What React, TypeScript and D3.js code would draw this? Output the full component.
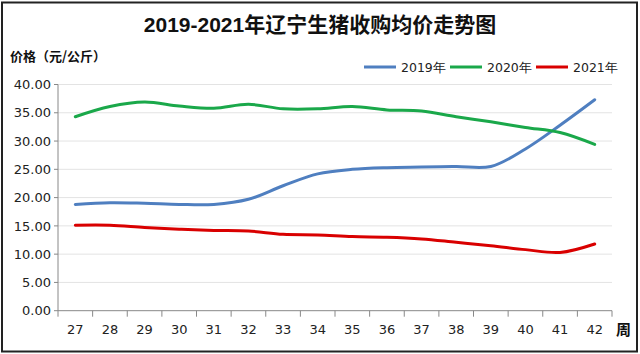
import React from "react";
import * as d3 from "d3";

const weeks = ["27","28","29","30","31","32","33","34","35","36","37","38","39","40","41","42"];
const s2019 = [18.8, 19.1, 19.0, 18.8, 18.8, 19.7, 22.1, 24.2, 25.0, 25.3, 25.4, 25.5, 25.5, 28.6, 32.8, 37.3];
const s2020 = [34.3, 36.1, 36.9, 36.2, 35.8, 36.5, 35.7, 35.7, 36.1, 35.5, 35.3, 34.3, 33.4, 32.4, 31.5, 29.4];
const s2021 = [15.1, 15.1, 14.7, 14.4, 14.2, 14.1, 13.5, 13.4, 13.1, 13.0, 12.7, 12.1, 11.5, 10.8, 10.3, 11.8];
const yTicks = [0, 5, 10, 15, 20, 25, 30, 35, 40];
const seriesNames = ["2019年", "2020年", "2021年"];
const colors = ["#4f7fc0", "#1aa84a", "#d90000"];

export default function App() {
  const W = 640, H = 354;
  const left = 58, right = 612, top = 84.5, bottom = 310.7;
  const x = d3.scaleBand<string>().domain(weeks).range([left, right]);
  const y = d3.scaleLinear().domain([0, 40]).range([bottom, top]);
  const line = d3.line<number>()
    .x((_, i) => (x(weeks[i]) as number) + x.bandwidth() / 2)
    .y((d) => y(d))
    .curve(d3.curveCatmullRom.alpha(0.5));
  const all = [s2019, s2020, s2021];
  const font = "DejaVu Sans, Verdana, sans-serif";
  const cjk = "'Noto Sans CJK SC', sans-serif";
  const titleFont = "'Liberation Sans', 'Noto Sans CJK SC', sans-serif";
  const legendX = [364, 450, 536];
  return (
    <svg width={W} height={H} style={{ position: "absolute", left: 0, top: 0 }}>
      <rect x={0} y={0} width={W} height={H} fill="#fff" />
      <rect x={2} y={2.5} width={635} height={349} fill="none" stroke="#222" strokeWidth={2} />
      <text x={320} y={32} textAnchor="middle" fontFamily={titleFont} fontWeight="bold" fontSize={21} fill="#111">2019-2021年辽宁生猪收购均价走势图</text>
      <text x={10} y={61} fontFamily={cjk} fontWeight="bold" fontSize={13} fill="#111">价格（元/公斤）</text>
      {yTicks.map((t) => (
        <g key={t}>
          {t > 0 && <line x1={left} x2={right} y1={y(t)} y2={y(t)} stroke="#e3e3e3" strokeWidth={1} />}
          <line x1={left - 4} x2={left} y1={y(t)} y2={y(t)} stroke="#888" />
          <text x={left - 7} y={y(t)} dy="0.36em" textAnchor="end" fontFamily={font} fontSize={13} fill="#222">{t.toFixed(2)}</text>
        </g>
      ))}
      <line x1={left} x2={left} y1={top} y2={bottom} stroke="#888" />
      <line x1={left} x2={right} y1={bottom} y2={bottom} stroke="#888" />
      {weeks.map((w) => (
        <g key={w}>
          <line x1={(x(w) as number)} x2={(x(w) as number)} y1={bottom} y2={bottom + 6} stroke="#888" />
          <text x={(x(w) as number) + x.bandwidth() / 2} y={334} textAnchor="middle" fontFamily={font} fontSize={13} fill="#222">{w}</text>
        </g>
      ))}
      <line x1={right} x2={right} y1={bottom} y2={bottom + 6} stroke="#888" />
      <text x={616} y={335} fontFamily={cjk} fontWeight="bold" fontSize={15} fill="#111">周</text>
      {all.map((s, i) => (
        <path key={i} d={line(s) || ""} fill="none" stroke={colors[i]} strokeWidth={3} strokeLinecap="round" />
      ))}
      {seriesNames.map((n, i) => (
        <g key={n}>
          <line x1={legendX[i]} x2={legendX[i] + 32} y1={67} y2={67} stroke={colors[i]} strokeWidth={3} />
          <text x={legendX[i] + 37} y={67} dy="0.36em" fontFamily={font} fontSize={12.5} fill="#222">{n}</text>
        </g>
      ))}
    </svg>
  );
}
